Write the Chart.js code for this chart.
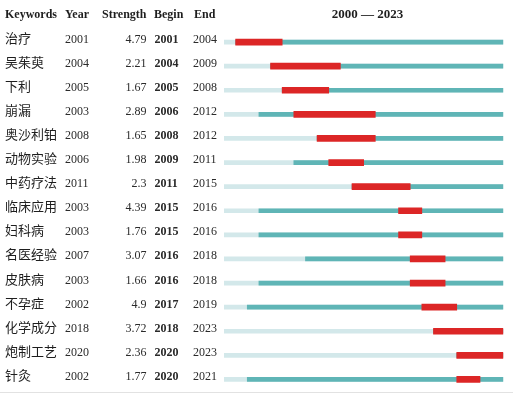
<!DOCTYPE html>
<html>
<head>
<meta charset="utf-8">
<script src="https://cdn.jsdelivr.net/npm/chart.js@4"></script>
<style>
html,body{margin:0;padding:0;background:#fff;}
canvas{display:block;}
</style>
</head>
<body>
<canvas id="c" width="513" height="396"></canvas>
<script>
const keywords = ['治疗','吴茱萸','下利','崩漏','奥沙利铂','动物实验','中药疗法','临床应用','妇科病','名医经验','皮肤病','不孕症','化学成分','炮制工艺','针灸'];
const years = [2001,2004,2005,2003,2008,2006,2011,2003,2003,2007,2003,2002,2018,2020,2002];
const strengths = [4.79,2.21,1.67,2.89,1.65,1.98,2.3,4.39,1.76,3.07,1.66,4.9,3.72,2.36,1.77];
const begins = [2001,2004,2005,2006,2008,2009,2011,2015,2015,2016,2016,2017,2018,2020,2020];
const ends = [2004,2009,2008,2012,2012,2011,2015,2016,2016,2018,2018,2019,2023,2023,2021];
const firstYear = 2000;
const lastYear = 2023;
const headers = ['Keywords','Year','Strength','Begin','End'];

const serif = "'Liberation Serif','Times New Roman',serif";
const cjk = "'Noto Sans CJK SC','Noto Sans',sans-serif";

const tablePlugin = {
  id: 'table',
  afterDraw(chart) {
    const ctx = chart.ctx;
    const ys = chart.scales.y;
    ctx.save();
    ctx.fillStyle = '#1e1e1e';
    ctx.textBaseline = 'alphabetic';
    // headers
    ctx.font = 'bold 12px ' + serif;
    ctx.textAlign = 'left';
    ctx.fillText(headers[0], 5, 18);
    ctx.fillText(headers[1], 65, 18);
    ctx.textAlign = 'right';
    ctx.fillText(headers[2], 146.5, 18);
    ctx.textAlign = 'left';
    ctx.fillText(headers[3], 154, 18);
    ctx.fillText(headers[4], 194, 18);
    ctx.font = 'bold 13px ' + serif;
    ctx.textAlign = 'center';
    ctx.fillText(firstYear + ' \u2014 ' + lastYear, 367.5, 18);
    // rows
    keywords.forEach((k, i) => {
      const y = ys.getPixelForValue(i) + 0.5;
      ctx.fillStyle = '#1e1e1e';
      ctx.textAlign = 'left';
      ctx.font = '13px ' + cjk;
      ctx.fillText(k, 5, y);
      ctx.fillStyle = '#2a2a2a';
      ctx.font = '12px ' + serif;
      ctx.fillText(String(years[i]), 65, y);
      ctx.textAlign = 'right';
      ctx.fillText(String(strengths[i]), 146.5, y);
      ctx.textAlign = 'left';
      ctx.font = 'bold 12px ' + serif;
      ctx.fillText(String(begins[i]), 154.5, y);
      ctx.font = '12px ' + serif;
      ctx.fillText(String(ends[i]), 193, y);
    });
    ctx.fillStyle = '#e2e2e2';
    ctx.fillRect(0, 392, 513, 1);
    ctx.restore();
  }
};

new Chart(document.getElementById('c'), {
  type: 'bar',
  data: {
    labels: keywords,
    datasets: [
      {
        label: 'burst',
        data: begins.map((b, i) => [b, ends[i] + 1]),
        backgroundColor: '#dc2626',
        barThickness: 6,
        order: 0
      },
      {
        label: 'present',
        data: years.map(y => [y, lastYear + 1]),
        backgroundColor: '#5fb5b6',
        barThickness: 4,
        order: 1
      },
      {
        label: 'absent',
        data: years.map(() => [firstYear, lastYear + 1]),
        backgroundColor: '#d3e8ea',
        barThickness: 4,
        order: 2
      }
    ]
  },
  options: {
    indexAxis: 'y',
    responsive: false,
    animation: false,
    layout: { padding: { left: 224, right: 9.7, top: 30, bottom: 4.5 } },
    datasets: { bar: { grouped: false, borderSkipped: false } },
    plugins: { legend: { display: false }, tooltip: { enabled: false }, title: { display: false } },
    scales: {
      x: { type: 'linear', min: firstYear, max: lastYear + 1, display: false },
      y: { display: false, grid: { display: false } }
    }
  },
  plugins: [tablePlugin]
});
</script>
</body>
</html>
